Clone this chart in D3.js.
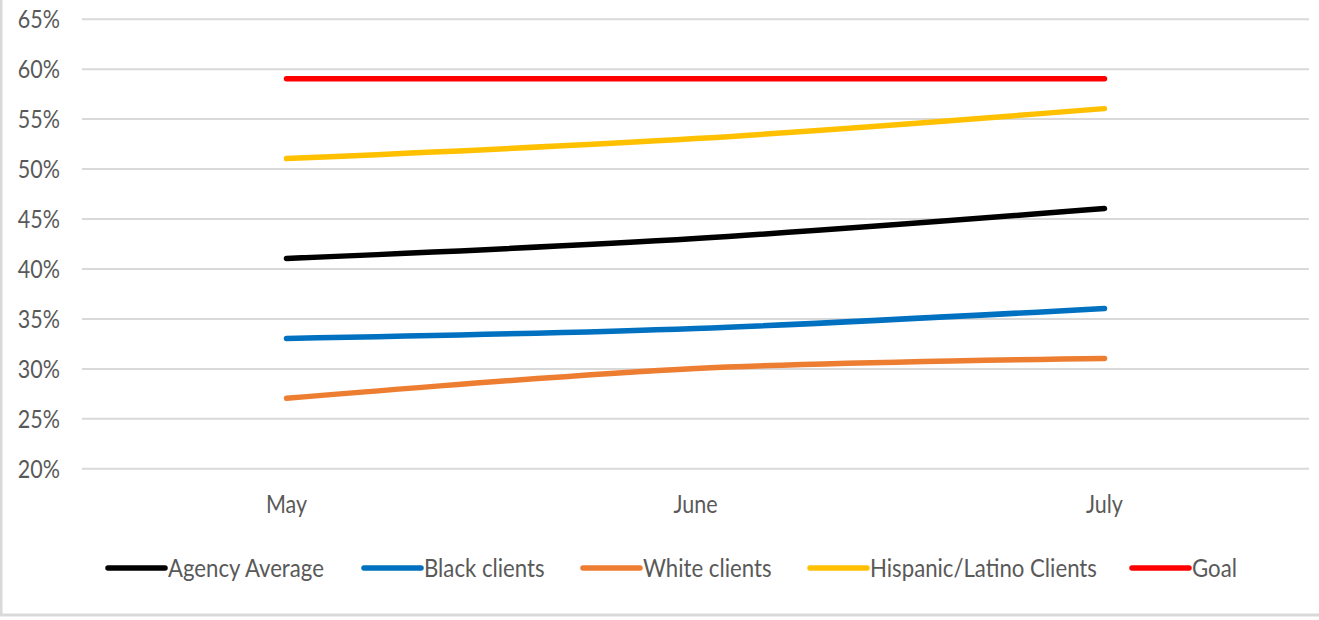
<!DOCTYPE html>
<html>
<head>
<meta charset="utf-8">
<script src="https://cdn.jsdelivr.net/npm/d3@7"></script>
<style>
  html, body { margin: 0; padding: 0; background: #ffffff; }
  svg { display: block; }
</style>
</head>
<body>
<svg id="chart" width="1319" height="620"></svg>
<script>
// Monthly categories
const months = ["May", "June", "July"];

// Rates per series (fractions)
const agencyAverage   = [0.41, 0.43, 0.46];
const blackClients    = [0.33, 0.34, 0.36];
const whiteClients    = [0.27, 0.30, 0.31];
const hispanicClients = [0.51, 0.53, 0.56];
const goal            = [0.59, 0.59, 0.59];

const seriesNames  = ["Agency Average", "Black clients", "White clients", "Hispanic/Latino Clients", "Goal"];
const seriesColors = ["#000000", "#0070C0", "#ED7D31", "#FFC000", "#FF0000"];
const seriesValues = [agencyAverage, blackClients, whiteClients, hispanicClients, goal];

// Y axis tick values
const yTicks = [0.20, 0.25, 0.30, 0.35, 0.40, 0.45, 0.50, 0.55, 0.60, 0.65];

const svg = d3.select("#chart");
const W = 1319, H = 620;

const plotLeft = 82, plotRight = 1309, plotTop = 18.7, plotBottom = 468.3;

const x = d3.scaleBand().domain(months).range([plotLeft, plotRight]).padding(0);
const cx = m => x(m) + x.bandwidth() / 2;
const y = d3.scaleLinear().domain([0.20, 0.65]).range([plotBottom, plotTop]);

const textColor = "#595959";
const fontFamily = "Lato, 'Open Sans', sans-serif";
const stretchY = 1.15;

// Text helper: slightly tall, narrow lettering
function stretched(sel) {
  sel.attr("transform", function () {
    const t = d3.select(this);
    const tx = +t.attr("x") || 0, ty = +t.attr("y") || 0;
    return `translate(${tx},${ty}) scale(1,${stretchY}) translate(${-tx},${-ty})`;
  });
}

// Outer frame (left and bottom edges visible)
svg.append("rect")
  .attr("x", 1).attr("y", -10)
  .attr("width", W + 20).attr("height", 625)
  .attr("fill", "none")
  .attr("stroke", "#d9d9d9")
  .attr("stroke-width", 3);

// Horizontal gridlines + left axis labels
const yAxis = d3.axisLeft(y)
  .tickValues(yTicks)
  .tickFormat(d3.format(".0%"))
  .tickSize(-(plotRight - plotLeft))
  .tickPadding(22);

const gy = svg.append("g")
  .attr("transform", `translate(${plotLeft},0)`)
  .call(yAxis);
gy.select(".domain").remove();
gy.selectAll(".tick line")
  .attr("stroke", "#d9d9d9")
  .attr("stroke-width", 2);
gy.selectAll(".tick text")
  .attr("fill", textColor)
  .attr("font-family", fontFamily)
  .attr("font-size", 21.5)
  .attr("dy", "0.36em")
  .attr("y", 0)
  .call(stretched);

// Category labels
const gx = svg.append("g")
  .attr("transform", `translate(0,${plotBottom})`)
  .call(d3.axisBottom(x).tickSize(0).tickPadding(0));
gx.select(".domain").remove();
gx.selectAll(".tick text")
  .attr("fill", textColor)
  .attr("font-family", fontFamily)
  .attr("font-size", 21.5)
  .attr("y", 45)
  .attr("dy", 0)
  .call(stretched);

// Series lines
const line = d3.line()
  .x((d, i) => cx(months[i]))
  .y(d => y(d))
  .curve(d3.curveCatmullRom.alpha(0.5));

svg.append("g").selectAll("path")
  .data(seriesValues)
  .join("path")
  .attr("d", d => line(d))
  .attr("fill", "none")
  .attr("stroke", (d, i) => seriesColors[i])
  .attr("stroke-width", 5.5)
  .attr("stroke-linecap", "round")
  .attr("stroke-linejoin", "round");

// Legend
const legendY = 568;
const legendX = [108, 364, 583, 810, 1132];
const legend = svg.append("g");
seriesNames.forEach((name, i) => {
  const g = legend.append("g");
  g.append("line")
    .attr("x1", legendX[i]).attr("x2", legendX[i] + 57)
    .attr("y1", legendY).attr("y2", legendY)
    .attr("stroke", seriesColors[i])
    .attr("stroke-width", 5.5)
    .attr("stroke-linecap", "round");
  g.append("text")
    .attr("x", legendX[i] + 60)
    .attr("y", legendY)
    .attr("dy", "0.36em")
    .attr("fill", textColor)
    .attr("font-family", fontFamily)
    .attr("font-size", 22.2)
    .text(name)
    .call(stretched);
});
</script>
</body>
</html>
